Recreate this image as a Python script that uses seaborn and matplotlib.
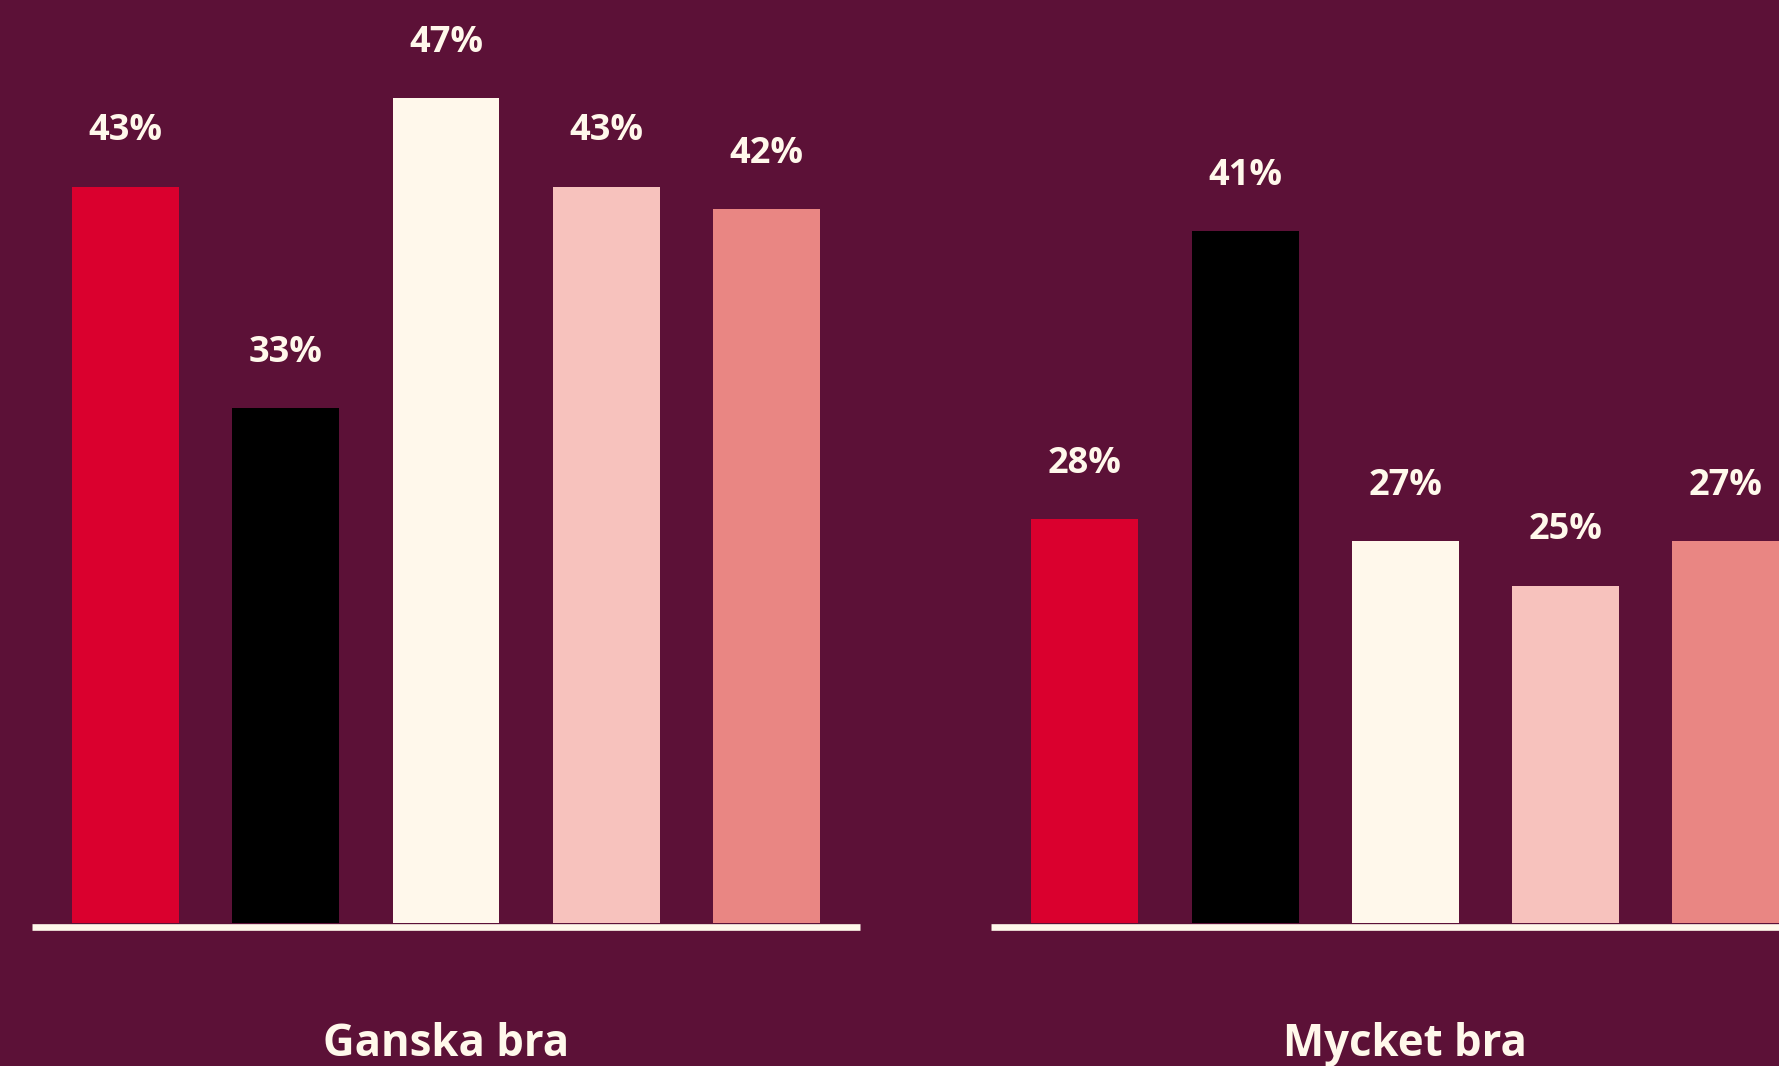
import matplotlib
matplotlib.use("Agg")
import matplotlib.pyplot as plt
import pandas as pd
import seaborn as sns

# Data
panels = ["Ganska bra", "Mycket bra"]
groups = ["A", "B", "C", "D", "E"]
ganska_bra = [43, 33, 47, 43, 42]
mycket_bra = [28, 41, 27, 25, 27]
bar_colors = ["#DA002E", "#000000", "#FFF8EB", "#F7C2BD", "#E98683"]

BG = "#5C1137"
CREAM = "#FFF8EB"

W, H = 1779, 1066
DPI = 100

sns.set_theme(style="white")
plt.rcParams["font.family"] = ["Open Sans", "DejaVu Sans"]

fig = plt.figure(figsize=(W / DPI, H / DPI), dpi=DPI, facecolor=BG)

# axes geometry in pixels
ax_w = 828
ax_bottom_px = 923.3
lefts = [32, 991.3]
y_min, y_max = 9.76, 51.44

for panel, values, left in zip(panels, [ganska_bra, mycket_bra], lefts):
    df = pd.DataFrame({"group": groups, "value": values})
    ax = fig.add_axes([left / W, (H - ax_bottom_px) / H, ax_w / W, ax_bottom_px / H])
    ax.set_facecolor(BG)
    sns.barplot(
        data=df,
        x="group",
        y="value",
        hue="group",
        palette=bar_colors,
        order=groups,
        hue_order=groups,
        legend=False,
        width=0.6675,
        saturation=1,
        linewidth=0,
        ax=ax,
        zorder=3,
    )
    for container, v in zip(ax.containers, values):
        ax.bar_label(
            container,
            labels=[f"{v}%"],
            padding=27,
            color=CREAM,
            fontsize=26,
            fontweight="bold",
        )
    ax.set_xlim(-0.583, 4.583)
    ax.set_ylim(y_min, y_max)
    ax.set_xticks([])
    ax.set_yticks([])
    ax.set_xlabel("")
    ax.set_ylabel("")
    for side in ["left", "top", "right"]:
        ax.spines[side].set_visible(False)
    ax.spines["bottom"].set_color(CREAM)
    ax.spines["bottom"].set_linewidth(4.8)
    ax.spines["bottom"].set_position(("outward", 2.4))
    ax.spines["bottom"].set_capstyle("butt")

    fig.text(
        (left + ax_w / 2) / W,
        (H - 1056) / H,
        panel,
        ha="center",
        va="baseline",
        color=CREAM,
        fontsize=31.5,
        fontweight="bold",
    )

fig.savefig("out.png", dpi=DPI, facecolor=BG)
